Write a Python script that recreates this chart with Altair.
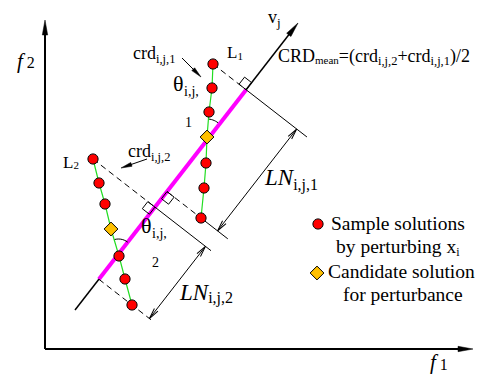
import altair as alt
import numpy as np
import pandas as pd

# ---------------- data (diagram coordinates: x right, y down, canvas pixels) ----------
# sample solutions on the two perturbation lines
L1_x = [213, 212, 209, 206, 204, 201]
L1_y = [64, 88, 112, 163, 188, 218]
L1_cand = [207, 137]
L2_x = [93, 99, 105, 119, 125, 132]
L2_y = [159, 183, 204, 256, 279, 305]
L2_cand = [111, 229]

# reference vector v_j (start, tip)
VJ_start = [75, 310]
VJ_tip = [298, 23]

# axes
ORIGIN = [45, 349]
F2_TIP = [45, 20]
F1_TIP = [473, 349]

# legend symbols
LEG_circle = [318, 224]
LEG_diamond = [317, 273]

# labels: start x, baseline y, pieces (text, font size, baseline shift, italic)
LABELS = [
    (17, 68, [("f", 21, 0, True), ("2", 16, 0, False)]),
    (430, 369, [("f", 21, 0, True), ("1", 16, 1, False)]),
    (268, 23, [("v", 18, 0, False), ("j", 13, 4, False)]),
    (133, 59, [("crd", 18, 0, False), ("i,j,1", 12.5, 4, False)]),
    (173, 91, [("θ", 22, 0, False), ("i,j,", 14, 5, False)]),
    (185, 127, [("1", 14, 0, False)]),
    (227, 58, [("L", 17, 0, False), ("1", 11, 2, False)]),
    (63, 168, [("L", 17, 0, False), ("2", 11, 1, False)]),
    (278, 62, [("CRD", 18, 0, False), ("mean", 11, 2, False), ("=(crd", 18, 0, False),
               ("i,j,2", 12.5, 3, False), ("+crd", 18, 0, False), ("i,j,1", 12.5, 3, False),
               (")/2", 18, 0, False)]),
    (128, 157, [("crd", 18, 0, False), ("i,j,2", 12.5, 4, False)]),
    (141, 233, [("θ", 22, 0, False), ("i,j,", 14, 5, False)]),
    (152, 267, [("2", 14, 0, False)]),
    (265, 185, [("LN", 23, 0, True), ("i,j,1", 16, 5, False)]),
    (180, 300, [("LN", 23, 0, True), ("i,j,2", 16, 3, False)]),
    (331, 230, [("Sample solutions", 19.5, 0, False)]),
    (336, 253, [("by perturbing x", 19.5, 0, False), ("i", 12, 3, False)]),
    (328, 278, [("Candidate solution", 19.5, 0, False)]),
    (343, 301, [("for perturbance", 19.5, 0, False)]),
]

FONT = "Liberation Serif, Times New Roman, Times, serif"

# Times-compatible advance widths (em) used to place label pieces one after another
W_UP = {" ": .25, "(": .333, ")": .333, "/": .278, "+": .564, "=": .564, ",": .25,
        "1": .5, "2": .5, "C": .667, "R": .667, "D": .722, "L": .611, "N": .722,
        "S": .556, "θ": .5}
W_LOW = dict(a=.444, b=.5, c=.444, d=.5, e=.444, f=.333, g=.5, i=.278, j=.278, l=.278,
             m=.778, n=.5, o=.5, p=.5, r=.333, s=.389, t=.278, u=.5, v=.5, x=.5, y=.5)
W_IT = {"L": .556, "N": .667, "f": .46}


def text_width(t, size, italic):
    tot = 0.0
    for ch in t:
        if italic and ch in W_IT:
            tot += W_IT[ch]
        else:
            tot += W_UP.get(ch, W_LOW.get(ch, .5))
    return tot * size


txt_rows = []
for x0, y0, pieces in LABELS:
    cx = x0
    for t, s, dy, it in pieces:
        txt_rows.append({"x": cx, "y": y0 + dy, "t": t, "s": s, "it": it})
        cx += text_width(t, s, it)
texts = pd.DataFrame(txt_rows)

# ---------------- geometry helpers ----------------
A = np.array(VJ_start, float)
B = np.array(VJ_tip, float)
u = (B - A) / np.linalg.norm(B - A)          # along v_j (up-right)
n = np.array([-u[1], u[0]])                  # perpendicular (down-right)
if n[0] < 0:
    n = -n


def foot(p):
    p = np.array(p, float)
    return A + np.dot(p - A, u) * u


def heading(d):
    return float(np.degrees(np.arctan2(d[0], -d[1])) % 360)


P1t = np.array([L1_x[0], L1_y[0]], float)
P1b = np.array([L1_x[-1], L1_y[-1]], float)
P2t = np.array([L2_x[0], L2_y[0]], float)
P2b = np.array([L2_x[-1], L2_y[-1]], float)
F1t, F1b, F2t, F2b = foot(P1t), foot(P1b), foot(P2t), foot(P2b)

seg_rows = []


def seg(p, q, kind):
    seg_rows.append({"x": p[0], "y": p[1], "x2": q[0], "y2": q[1], "kind": kind})


DIM = 64
seg(F1t, F1t + 77 * n, "thin")
seg(P1b, F1b + 77 * n, "thin")
seg(F2t, F2t + 71 * n, "thin")
seg(F1b + DIM * n, F1t + DIM * n, "thin")
seg(F2b + DIM * n, F2t + DIM * n, "thin")
crd1_from, crd1_to = np.array([182, 58.]), np.array([201, 77.])
crd2_from, crd2_to = np.array([147, 159.]), np.array([121, 168.])
seg(crd1_from, crd1_to - 6 * (crd1_to - crd1_from) / np.linalg.norm(crd1_to - crd1_from), "thin")
seg(crd2_from, crd2_to - 6 * (crd2_to - crd2_from) / np.linalg.norm(crd2_to - crd2_from), "thin")
seg(P1t, F1t, "dash")
seg(F1b, P1b, "dash")
seg(P2t, F2t, "dash")
seg(F2b, F2b + 68 * n, "dash")
seg(A, B - 8 * u, "vj")
seg(F2b, F1t, "magenta")
seg(ORIGIN, np.array(F2_TIP) + np.array([0, 12]), "axis")
seg(ORIGIN, np.array(F1_TIP) - np.array([12, 0]), "axis")
segs = pd.DataFrame(seg_rows)

# right-angle boxes
S = 9
box_rows = []
for bid, (F, a, b) in enumerate([(F1t, u, -n), (F1b, -u, n), (F2t, -u, -n)]):
    pts = [F, F + S * a, F + S * a + S * b, F + S * b, F]
    for k, p in enumerate(pts):
        box_rows.append({"x": p[0], "y": p[1], "id": bid, "k": k})
boxes = pd.DataFrame(box_rows)

# green perturbation lines
g_rows = []
for sid, (xs_, ys_, c) in enumerate([(L1_x, L1_y, L1_cand), (L2_x, L2_y, L2_cand)]):
    pts = sorted(list(zip(xs_, ys_)) + [tuple(c)], key=lambda t: t[1])
    for k, (x, y) in enumerate(pts):
        g_rows.append({"x": x, "y": y, "id": sid, "k": k})
green = pd.DataFrame(g_rows)

samples = pd.DataFrame({"x": L1_x + L2_x + [LEG_circle[0]],
                        "y": L1_y + L2_y + [LEG_circle[1]]})
cands = pd.DataFrame({"x": [L1_cand[0], L2_cand[0], LEG_diamond[0]],
                      "y": [L1_cand[1], L2_cand[1], LEG_diamond[1]]})

# theta arcs
arc_rows = []
for aid, (c, top, r) in enumerate([(np.array(L1_cand, float), P1t, 18),
                                   (np.array([118.5, 254.]), np.array(L2_cand, float), 15)]):
    dg = (top - c) / np.linalg.norm(top - c)
    a0 = np.arctan2(dg[1], dg[0])
    a1 = np.arctan2(u[1], u[0])
    for k, t in enumerate(np.linspace(a0, a1, 8)):
        arc_rows.append({"x": c[0] + r * np.cos(t), "y": c[1] + r * np.sin(t), "id": aid, "k": k})
arcs = pd.DataFrame(arc_rows)

# arrowheads
head_rows = []


def head(tip, d, L, kind):
    d = np.array(d, float) / np.linalg.norm(d)
    c = np.array(tip, float) - d * L / 2
    head_rows.append({"x": c[0], "y": c[1], "ang": heading(d), "size": L * L, "kind": kind})


head(F2_TIP, [0, -1], 15, "solid")
head(F1_TIP, [1, 0], 15, "solid")
head(VJ_tip, u, 15, "solid")
head(crd1_to, crd1_to - crd1_from, 11, "solid")
head(crd2_to, crd2_to - crd2_from, 11, "solid")
head(F1t + DIM * n, u, 11, "open")
head(F1b + DIM * n, -u, 11, "open")
head(F2t + DIM * n, u, 11, "open")
head(F2b + DIM * n, -u, 11, "open")
heads = pd.DataFrame(head_rows)

# ---------------- chart ----------------
W, H = 470, 368
xs = alt.Scale(domain=[8, 8 + W], nice=False, zero=False)
ys = alt.Scale(domain=[8 + H, 8], nice=False, zero=False)
X = alt.X("x:Q", scale=xs, axis=None)
Y = alt.Y("y:Q", scale=ys, axis=None)


def rules(kind, **kw):
    return alt.Chart(segs[segs.kind == kind]).mark_rule(**kw).encode(
        x=X, y=Y, x2="x2:Q", y2="y2:Q")


layers = [
    rules("vj", color="black", strokeWidth=1.5),
    rules("magenta", color="#FF00FF", strokeWidth=4, strokeCap="butt"),
    rules("axis", color="black", strokeWidth=2),
    rules("thin", color="black", strokeWidth=1),
    rules("dash", color="black", strokeWidth=1, strokeDash=[6, 4]),
    alt.Chart(boxes).mark_line(color="black", strokeWidth=1).encode(
        x=X, y=Y, detail="id:N", order="k:Q"),
    alt.Chart(arcs).mark_line(color="black", strokeWidth=1).encode(
        x=X, y=Y, detail="id:N", order="k:Q"),
    alt.Chart(green).mark_line(color="#22DD22", strokeWidth=1.2).encode(
        x=X, y=Y, detail="id:N", order="k:Q"),
    alt.Chart(samples).mark_point(shape="circle", filled=True, fill="#FF0000", stroke="black",
                                  strokeWidth=1, size=105, opacity=1).encode(x=X, y=Y),
    alt.Chart(cands).mark_point(shape="diamond", filled=True, fill="#FFC000", stroke="black",
                                strokeWidth=1, size=190, opacity=1).encode(x=X, y=Y),
    alt.Chart(heads[heads.kind == "solid"]).mark_point(
        shape="M0,-1L0.36,1L-0.36,1Z", filled=True, fill="black", stroke="black",
        strokeWidth=0.5, opacity=1).encode(
        x=X, y=Y, angle=alt.Angle("ang:Q", scale=None), size=alt.Size("size:Q", scale=None)),
    alt.Chart(heads[heads.kind == "open"]).mark_point(
        shape="M-0.4,1L0,-1L0.4,1", filled=False, stroke="black", strokeWidth=1, opacity=1).encode(
        x=X, y=Y, angle=alt.Angle("ang:Q", scale=None), size=alt.Size("size:Q", scale=None)),
]

for it, style in [(False, "normal"), (True, "italic")]:
    layers.append(alt.Chart(texts[texts.it == it]).mark_text(
        align="left", baseline="alphabetic", font=FONT, fontStyle=style, color="black").encode(
        x=X, y=Y, text="t:N", size=alt.Size("s:Q", scale=None)))

chart = alt.layer(*layers).properties(
    width=W, height=H, padding=0, autosize=alt.AutoSizeParams(type="none"),
    background="white",
).configure_view(stroke=None)

chart.save("out.html", embed_options={"renderer": "svg", "actions": False})
